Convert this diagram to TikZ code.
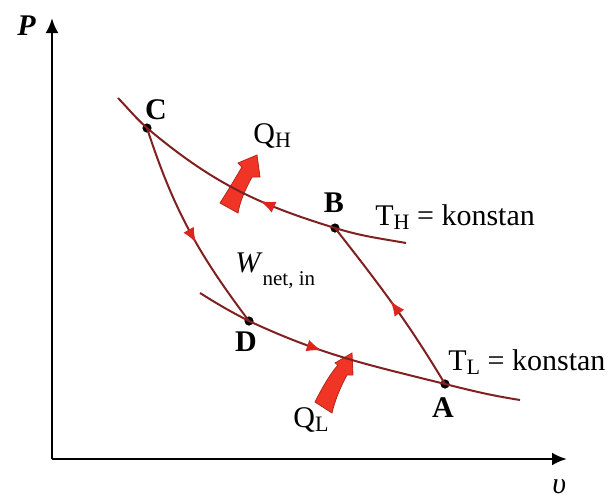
\documentclass[tikz,border=0pt]{standalone}
\usepackage{fontspec}
\setmainfont{Liberation Serif}
\usetikzlibrary{arrows.meta,decorations.markings}
\definecolor{curvered}{RGB}{128,32,32}
\definecolor{tipred}{RGB}{218,38,30}
\definecolor{heatred}{RGB}{240,52,38}
\newcommand{\sbs}[1]{\raisebox{-0.3ex}{\fontsize{11}{12}\selectfont #1}}

\begin{document}
\begin{tikzpicture}[x=0.5pt, y=-0.5pt,
    state/.style = {circle, fill=black, inner sep=0pt, minimum size=4.6pt},
    lbl/.style = {font=\fontsize{15}{16}\selectfont\bfseries},
    txt/.style = {font=\fontsize{15}{16}\selectfont, anchor=base west, inner sep=0pt},
    axis/.style = {line width=1.3pt, -{Latex[length=7.5pt,width=6.5pt]}},
    proc/.style = {draw=curvered, line width=1pt},
    midarrow/.style = {postaction={decorate}, decoration={markings,
        mark=at position #1 with {\arrow[tipred]{Latex[length=7.5pt,width=6pt]}}}},
    heat/.style = {fill=heatred, draw=heatred!75!black, line width=0.4pt}]
    \useasboundingbox (0,0) rectangle (612,499);

    \coordinate (O) at (52,459);
    \coordinate (Ptip) at (52,18);
    \coordinate (vtip) at (567,459);
    \draw[axis] (O) -- (Ptip);
    \draw[axis] (O) -- (vtip);

    \node[state] (C) at (147,128) {};
    \node[state] (B) at (335,228) {};
    \node[state] (D) at (249,321) {};
    \node[state] (A) at (445,384) {};
    \coordinate (hs) at (118,98);
    \coordinate (he) at (406,243);
    \coordinate (ls) at (200,293);
    \coordinate (le) at (520,400);

    \draw[heat] (220,203) .. controls (229,189) and (236,177) .. (242,167) -- (238,163) -- (257,155)
        -- (260,177) -- (252,177) .. controls (245,190) and (240,201) .. (238,213) -- cycle;
    \draw[heat] (315,402) .. controls (322,388) and (330,374) .. (338,365) -- (335,363) -- (352,353)
        -- (353,375) -- (347,375) .. controls (340,388) and (335,400) .. (332,413) -- cycle;

    \draw[proc] (hs) to[out=-46,in=138] (C.center);
    \draw[proc, midarrow=0.37] (B.center) to[out=163,in=-40] (C.center);
    \draw[proc] (B.center) to[out=-17,in=170] (he);
    \draw[proc] (ls) to[out=-32,in=153] (D.center);
    \draw[proc, midarrow=0.38] (D.center) to[out=-25,in=166] (A.center);
    \draw[proc] (A.center) to[out=-14,in=171] (le);
    \draw[proc, midarrow=0.57] (C.center) to[out=-72,in=127] (D.center);
    \draw[proc, midarrow=0.52] (A.center) to[out=121,in=-52] (B.center);

    \node[lbl] (Clbl) at (156,110) {C};
    \node[lbl] (Blbl) at (334,203) {B};
    \node[lbl] (Dlbl) at (246,342) {D};
    \node[lbl] (Albl) at (443,408) {A};

    \node[txt] (Plbl) at (17,35) {\textbf{\textit{P}}};
    \node[txt] (vlbl) at (552,493) {\textit{υ}};
    \node[txt] (TH) at (375,225) {T\sbs{H} = konstan};
    \node[txt] (TL) at (448,370) {T\sbs{L} = konstan};
    \node[txt] (QH) at (253,143) {Q\sbs{H}};
    \node[txt] (QL) at (293,427) {Q\sbs{L}};
    \node[txt] (Wnet) at (235,272) {\textit{W}\raisebox{-6.5pt}{\fontsize{10.5}{11}\selectfont net, in}};
\end{tikzpicture}
\end{document}
